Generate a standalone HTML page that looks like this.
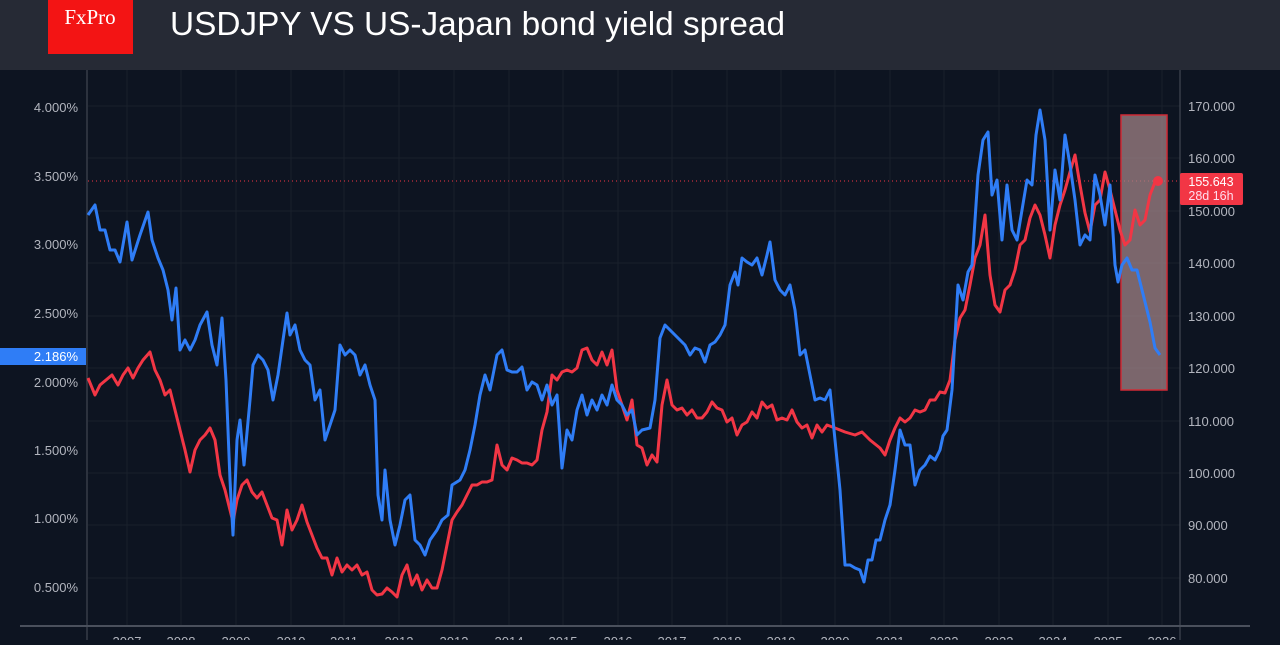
<!DOCTYPE html>
<html><head><meta charset="utf-8"><style>
body{margin:0;width:1280px;height:640px;overflow:hidden;background:#0d1421;font-family:"Liberation Sans",sans-serif}
</style></head><body>
<svg width="1280" height="640" viewBox="0 0 1280 640" xmlns="http://www.w3.org/2000/svg">
<rect width="1280" height="640" fill="#0d1421"/>
<rect width="1280" height="70" fill="#262a35"/>
<rect x="48" y="0" width="85" height="54" fill="#f31414"/>
<text x="90" y="24" fill="#fff" font-family="Liberation Serif,serif" font-size="21" text-anchor="middle">FxPro</text>
<text x="170" y="35" fill="#fff" font-size="33" textLength="615" lengthAdjust="spacingAndGlyphs">USDJPY VS US-Japan bond yield spread</text>
<g stroke="#19202c" stroke-width="1">
<line x1="88" x2="1180" y1="106" y2="106"/><line x1="88" x2="1180" y1="158" y2="158"/><line x1="88" x2="1180" y1="211" y2="211"/><line x1="88" x2="1180" y1="263" y2="263"/><line x1="88" x2="1180" y1="316" y2="316"/><line x1="88" x2="1180" y1="368" y2="368"/><line x1="88" x2="1180" y1="421" y2="421"/><line x1="88" x2="1180" y1="473" y2="473"/><line x1="88" x2="1180" y1="525" y2="525"/><line x1="88" x2="1180" y1="578" y2="578"/>
<line x1="127" x2="127" y1="70" y2="626"/><line x1="181" x2="181" y1="70" y2="626"/><line x1="236" x2="236" y1="70" y2="626"/><line x1="291" x2="291" y1="70" y2="626"/><line x1="344" x2="344" y1="70" y2="626"/><line x1="399" x2="399" y1="70" y2="626"/><line x1="454" x2="454" y1="70" y2="626"/><line x1="509" x2="509" y1="70" y2="626"/><line x1="563" x2="563" y1="70" y2="626"/><line x1="618" x2="618" y1="70" y2="626"/><line x1="672" x2="672" y1="70" y2="626"/><line x1="727" x2="727" y1="70" y2="626"/><line x1="781" x2="781" y1="70" y2="626"/><line x1="835" x2="835" y1="70" y2="626"/><line x1="890" x2="890" y1="70" y2="626"/><line x1="944" x2="944" y1="70" y2="626"/><line x1="999" x2="999" y1="70" y2="626"/><line x1="1053" x2="1053" y1="70" y2="626"/><line x1="1108" x2="1108" y1="70" y2="626"/><line x1="1162" x2="1162" y1="70" y2="626"/>
</g>
<line x1="87" x2="87" y1="70" y2="640" stroke="#4a505c"/>
<line x1="1180" x2="1180" y1="70" y2="640" stroke="#4a505c"/>
<line x1="20" x2="1250" y1="626" y2="626" stroke="#4a505c" stroke-width="2"/>
<g fill="#b2b5be" font-size="13" text-anchor="end">
<text x="78" y="112">4.000%</text><text x="78" y="181">3.500%</text><text x="78" y="249">3.000%</text><text x="78" y="318">2.500%</text><text x="78" y="455">1.500%</text><text x="78" y="523">1.000%</text><text x="78" y="592">0.500%</text><text x="78" y="387">2.000%</text>
</g>
<g fill="#b2b5be" font-size="13">
<text x="1188" y="111">170.000</text><text x="1188" y="163">160.000</text><text x="1188" y="268">140.000</text><text x="1188" y="321">130.000</text><text x="1188" y="373">120.000</text><text x="1188" y="426">110.000</text><text x="1188" y="478">100.000</text><text x="1188" y="530">90.000</text><text x="1188" y="583">80.000</text><text x="1188" y="216">150.000</text>
</g>
<g fill="#b2b5be" font-size="13" text-anchor="middle">
<text x="127" y="646">2007</text><text x="181" y="646">2008</text><text x="236" y="646">2009</text><text x="291" y="646">2010</text><text x="344" y="646">2011</text><text x="399" y="646">2012</text><text x="454" y="646">2013</text><text x="509" y="646">2014</text><text x="563" y="646">2015</text><text x="618" y="646">2016</text><text x="672" y="646">2017</text><text x="727" y="646">2018</text><text x="781" y="646">2019</text><text x="835" y="646">2020</text><text x="890" y="646">2021</text><text x="944" y="646">2022</text><text x="999" y="646">2023</text><text x="1053" y="646">2024</text><text x="1108" y="646">2025</text><text x="1162" y="646">2026</text>
</g>
<line x1="88" x2="1180" y1="181" y2="181" stroke="#f23645" stroke-dasharray="1,3"/>
<rect x="1121" y="115" width="46" height="275" fill="#a08286" fill-opacity="0.75" stroke="#d02a35" stroke-width="1.5"/>
<polyline fill="none" stroke="#f23645" stroke-width="3" stroke-linejoin="round" points="88,378 95,395 100,385 106,380 112,375 118,385 123,375 128,368 133,378 138,368 143,360 150,352 155,370 160,380 165,395 170,390 175,410 180,430 185,450 190,472 195,450 200,440 205,435 210,428 215,440 220,475 225,490 230,510 233,522 237,500 242,485 247,480 252,492 257,498 262,492 267,505 272,518 277,520 282,545 287,510 292,530 297,520 302,505 307,522 312,535 317,548 322,558 327,558 332,575 337,558 342,572 347,565 352,570 357,565 362,575 367,572 372,590 377,595 382,594 387,588 392,592 397,597 402,575 407,565 412,585 417,575 422,590 427,580 432,588 437,588 442,570 447,545 452,520 457,512 462,505 467,495 472,485 477,485 482,482 487,482 492,480 497,445 502,465 507,470 512,458 517,460 522,463 527,463 532,465 537,460 542,430 547,412 552,375 557,380 562,372 567,370 572,372 577,368 582,350 587,348 592,360 597,365 602,352 607,365 612,350 617,390 622,405 627,420 632,400 637,445 642,448 647,465 652,455 657,462 662,405 667,380 672,405 677,410 682,408 687,415 692,410 697,418 702,418 707,412 712,402 717,408 722,410 727,422 732,418 737,435 742,425 747,422 752,412 757,418 762,402 767,408 772,405 777,420 782,418 787,420 792,410 797,422 802,428 807,425 812,438 817,425 822,432 827,425 835,428 845,432 855,435 862,432 870,440 880,448 885,455 890,440 895,428 900,418 905,422 910,418 915,410 920,412 925,410 930,400 935,400 940,392 945,393 950,380 955,340 960,318 965,310 970,285 975,258 980,245 985,215 990,275 995,305 1000,312 1005,290 1010,285 1015,270 1020,245 1025,240 1030,218 1035,205 1040,215 1045,235 1050,258 1055,225 1060,205 1065,190 1070,172 1075,155 1080,185 1085,213 1090,232 1095,205 1100,200 1105,172 1110,190 1115,210 1120,230 1125,245 1130,240 1135,210 1140,225 1145,220 1150,195 1155,182 1160,180"/>
<circle cx="1158" cy="181" r="5" fill="#f23645"/>
<polyline fill="none" stroke="#2f7df6" stroke-width="3" stroke-linejoin="round" points="88,215 95,205 100,230 105,230 110,250 115,250 120,262 127,222 132,260 140,235 148,212 152,240 158,258 163,270 168,290 172,320 176,288 180,350 185,340 190,350 195,340 200,325 207,312 212,345 217,365 222,318 226,380 230,480 233,535 237,440 240,420 244,465 250,400 253,365 258,355 263,360 268,370 273,400 278,375 283,340 287,313 290,335 295,325 300,350 305,360 310,365 315,400 320,390 325,440 330,425 335,410 340,345 345,355 350,350 355,355 360,375 365,365 370,385 375,400 378,495 382,520 385,470 390,520 395,545 400,525 405,500 410,495 415,540 420,545 425,555 430,540 437,530 442,520 448,515 452,485 460,480 465,470 470,450 475,425 480,395 485,375 490,390 497,355 502,350 507,370 512,372 517,372 522,367 527,390 532,382 537,385 542,400 547,385 552,405 557,395 562,468 567,430 572,440 577,410 582,395 587,415 592,400 597,410 602,395 607,405 612,385 617,400 622,405 627,415 632,410 637,435 642,430 650,428 655,400 660,338 665,325 670,330 675,335 680,340 685,345 690,355 695,348 700,350 705,362 710,345 715,342 720,335 725,325 730,285 735,272 738,285 742,258 747,262 752,265 757,258 762,275 767,255 770,242 775,280 780,290 785,295 790,285 795,310 800,355 805,350 810,375 815,400 820,398 825,400 830,390 835,440 840,490 845,565 850,565 855,568 860,570 864,582 868,560 872,560 876,540 880,540 885,520 890,505 895,470 900,430 905,445 910,445 915,485 920,470 925,465 930,456 935,460 940,450 943,436 947,430 952,390 958,285 963,300 968,272 972,265 978,175 983,140 988,132 992,195 997,180 1002,240 1007,185 1012,230 1017,240 1022,210 1027,180 1032,185 1036,135 1040,110 1045,140 1050,230 1055,170 1060,200 1065,135 1070,165 1075,200 1080,245 1085,235 1090,240 1095,175 1100,195 1105,225 1110,185 1115,265 1118,282 1122,265 1127,258 1132,270 1137,270 1142,290 1147,310 1150,322 1155,348 1160,355"/>
<rect x="1180" y="173" width="63" height="32" fill="#f23645" rx="2"/>
<text x="1211" y="186" fill="#fff" font-size="12.5" text-anchor="middle">155.643</text>
<text x="1211" y="200" fill="#fde" font-size="12.5" text-anchor="middle">28d 16h</text>
<rect x="0" y="348" width="86" height="17" fill="#2f7df6"/>
<text x="78" y="361" fill="#fff" font-size="13" text-anchor="end">2.186%</text>
</svg>
</body></html>
